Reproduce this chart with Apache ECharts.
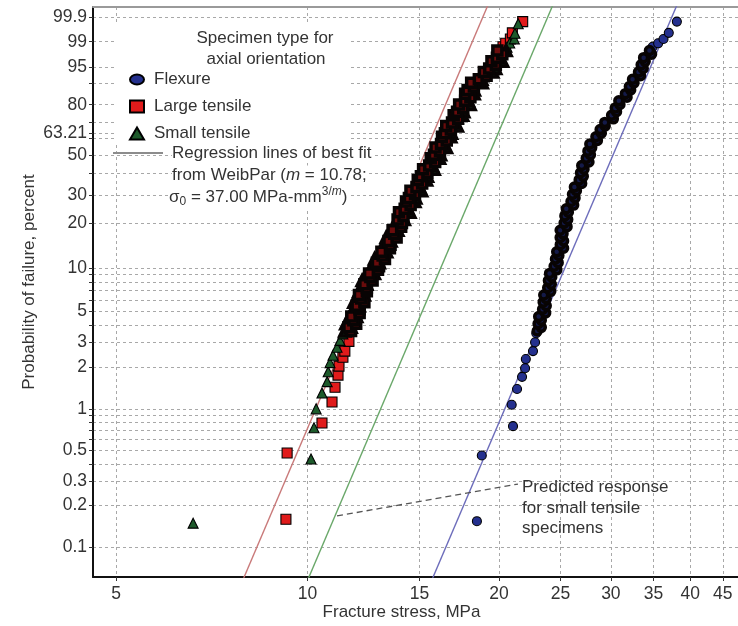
<!DOCTYPE html>
<html><head><meta charset="utf-8">
<script src="https://cdn.jsdelivr.net/npm/echarts@6/dist/echarts.min.js"></script>
<style>html,body{margin:0;padding:0;background:#fff}#c{width:738px;height:626px}</style>
</head><body><div id="c"></div>
<script>
// ---------- axes ----------
const xTickStress = [5, 10, 15, 20, 25, 30, 35, 40, 45];
const xRangeStress = [4.6, 47.54];
const yLabelPct = [0.1, 0.2, 0.3, 0.5, 1, 2, 3, 5, 10, 20, 30, 50, 63.21, 80, 95, 99, 99.9];
const yGridPct = [0.1, 0.2, 0.3, 0.4, 0.5, 0.6, 0.7, 0.8, 0.9, 1, 2, 3, 4, 5, 6, 7, 8, 9, 10, 20, 30, 40, 50, 60, 63.21, 70, 80, 90, 95, 99, 99.9];
const yRangePct = [0.0607, 99.973];

// ---------- data (stress in MPa, probability of failure in percent) ----------
// percent levels of the dense part of each distribution
const bandPct = [3.62, 3.84, 4.07, 4.32, 4.58, 4.86, 5.15, 5.46, 5.79, 6.13, 6.50, 6.89, 7.30, 7.73, 8.19, 8.67, 9.18, 9.72, 10.29, 10.89,
  11.53, 12.19, 12.90, 13.64, 14.42, 15.24, 16.10, 17.01, 17.95, 18.95, 20.00, 21.09, 22.24, 23.44, 24.70, 26.00, 27.37, 28.80, 30.27, 31.81,
  33.41, 35.06, 36.77, 38.54, 40.36, 42.23, 44.17, 46.14, 48.16, 50.23, 52.33, 54.46, 56.63, 58.81, 61.01, 63.21, 65.42, 67.62, 69.80, 71.95,
  74.07, 76.15, 78.17, 80.13, 82.02, 83.84, 85.55, 87.19, 88.71, 90.14, 91.45, 92.66, 93.75, 94.74, 95.62, 96.38, 97.06, 97.63, 98.12];

// Flexure
const flexLowStress = [18.47, 18.8, 21.05, 20.95, 21.36, 21.75, 21.99, 22.05, 22.63, 22.8, 22.9];
const flexLowPct = [0.154, 0.46, 0.75, 1.07, 1.39, 1.70, 1.96, 2.28, 2.60, 3.01, 3.49];
const flexBandStress = [22.98, 23.32, 23.05, 23.32, 23.10, 23.69, 23.43, 23.74, 23.48, 23.74, 23.53, 24.13, 23.87, 24.18, 23.93, 24.22, 24.03,
  24.67, 24.43, 24.79, 24.55, 24.85, 24.66, 25.28, 24.98, 25.28, 24.97, 25.23, 24.97, 25.60, 25.33, 25.66, 25.40, 25.72, 25.53, 26.22, 25.97,
  26.35, 26.11, 26.48, 26.29, 26.99, 26.75, 27.15, 26.88, 27.22, 27.00, 27.71, 27.44, 27.86, 27.61, 27.99, 27.80, 28.57, 28.42, 28.98, 28.86,
  29.39, 29.35, 30.27, 30.08, 30.62, 30.48, 31.00, 30.88, 31.81, 31.62, 32.23, 32.08, 32.62, 32.45, 33.40, 33.16, 33.73, 33.48, 33.97, 33.78,
  34.76, 34.50];
const flexTopStress = [34.9, 35.6, 36.3, 37.0, 38.1];
const flexTopPct = [98.55, 98.87, 99.19, 99.52, 99.84];

// Large tensile
const largeLowStress = [9.25, 9.29, 10.54, 10.93, 11.05, 11.17, 11.21, 11.37, 11.45, 11.62];
const largeLowPct = [0.159, 0.48, 0.79, 1.12, 1.43, 1.75, 2.03, 2.35, 2.60, 3.05];
const largeBandStress = [11.71, 11.60, 11.93, 11.81, 11.72, 12.08, 12.08, 11.95, 12.29, 12.14, 12.05, 12.40, 12.40, 12.29, 12.66, 12.56,
  12.50, 12.91, 12.96, 12.86, 13.24, 13.13, 13.07, 13.48, 13.51, 13.41, 13.81, 13.69, 13.61, 14.04, 14.08, 13.86, 14.16, 13.93, 14.22, 14.53,
  14.29, 14.44, 14.76, 14.52, 14.84, 15.15, 14.91, 15.08, 15.44, 15.20, 15.54, 15.88, 15.63, 15.81, 16.16, 15.90, 16.22, 16.56, 16.28, 16.45,
  16.81, 16.53, 16.88, 17.26, 16.98, 17.19, 17.58, 17.32, 17.70, 18.04, 17.70, 17.86, 18.27, 18.09, 18.60, 19.13, 18.94, 19.31, 19.78, 19.47,
  19.86, 20.25, 19.89];
const largeTopStress = [20.3, 20.5, 20.85, 21.0, 21.8];
const largeTopPct = [98.55, 98.87, 99.19, 99.52, 99.84];

// Small tensile
const smallLowStress = [6.61, 10.13, 10.24, 10.32, 10.54, 10.74, 10.78, 10.85, 10.97, 11.13, 11.25, 11.37];
const smallLowPct = [0.149, 0.434, 0.73, 1.0, 1.30, 1.57, 1.85, 2.15, 2.43, 2.77, 3.10, 3.45];
const smallBandStress = [11.45, 11.71, 11.49, 11.75, 11.95, 11.73, 11.82, 12.06, 11.83, 12.08, 12.28, 12.05, 12.13, 12.40, 12.19, 12.49,
  12.74, 12.54, 12.68, 12.97, 12.75, 13.06, 13.32, 13.09, 13.22, 13.53, 13.30, 13.62, 13.87, 13.64, 13.77, 14.20, 14.08, 14.49, 14.38, 14.29,
  14.75, 14.80, 14.68, 15.12, 15.00, 14.91, 15.39, 15.44, 15.34, 15.82, 15.71, 15.62, 16.13, 16.19, 16.06, 16.54, 16.40, 16.30, 16.80, 16.85,
  16.71, 17.21, 17.06, 16.98, 17.54, 17.61, 17.48, 18.02, 17.90, 17.76, 18.28, 18.30, 18.17, 18.83, 18.80, 18.83, 19.56, 19.77, 19.66, 20.27,
  20.08, 19.93, 20.53];
const smallTopStress = [20.6, 20.8, 21.15, 21.2, 21.45];
const smallTopPct = [98.5, 98.9, 99.2, 99.5, 99.8];

// Regression lines (end points outside the plot, clipped by the grid)
const regLinePct = [0.01, 99.99];
const regRedStress = [6.73, 19.37];
const regGreenStress = [8.51, 24.50];
const regBlueStress = [13.34, 38.40];
// leader line of the "Predicted response" note
const leaderStress = [11.13, 21.43];
const leaderPct = [0.168, 0.286];

// ---------- helpers ----------
const FONT = '"Liberation Sans", Arial, Helvetica, sans-serif';
const TXT = '#333';
const tx = s => Math.log10(s);
const ty = p => Math.log(-Math.log(1 - p / 100));
function pts(stress, pct) {
  const n = Math.min(stress.length, pct.length), out = [];
  for (let i = 0; i < n; i++) out.push([tx(stress[i]), ty(pct[i])]);
  return out;
}
const xMin = tx(xRangeStress[0]), xMax = tx(xRangeStress[1]);
const yMin = ty(yRangePct[0]), yMax = ty(yRangePct[1]);

function pctLabel(v) {
  let best = yLabelPct[0], d = Infinity;
  yLabelPct.forEach(q => { const dd = Math.abs(ty(q) - v); if (dd < d) { d = dd; best = q; } });
  return String(best);
}

const splitStyle = { color: '#a8a8a8', type: [3, 3], width: 1 };
const COL = { flex: '#24308e', large: '#e01b1b', small: '#1d5a2b' };
// dense (overlapping) parts of each sample render almost black, as in the source figure
const DARK = { flex: '#141a48', large: '#6a0c0c', small: '#0e2a16' };
function scatter(name, data, symbol, size, color, band) {
  return {
    name, type: 'scatter', data, symbol, symbolSize: size, z: band ? 4 : 3,
    itemStyle: { color, opacity: 1, borderColor: band ? '#080404' : '#000', borderWidth: band ? 3.5 : 1.1 },
    emphasis: { disabled: true }
  };
}

const chart = echarts.init(document.getElementById('c'), null, { renderer: 'canvas' });
chart.setOption({
  animation: false,
  backgroundColor: '#fff',
  textStyle: { fontFamily: FONT },
  grid: { left: 93, right: 0, top: 7, bottom: 49, containLabel: false, outerBoundsMode: 'none' },
  xAxis: [{
    type: 'value', min: xMin, max: xMax,
    name: 'Fracture stress, MPa', nameLocation: 'middle', nameGap: 27, nameMoveOverlap: false,
    nameTextStyle: { fontSize: 17, color: TXT, fontFamily: FONT, padding: [0, 28, 0, 0] },
    axisLine: { show: true, onZero: false, lineStyle: { color: '#111', width: 2 } },
    axisTick: { show: true, inside: false, length: 4, lineStyle: { color: '#333' }, customValues: xTickStress.map(tx) },
    axisLabel: { show: true, fontSize: 17.5, color: TXT, fontFamily: FONT, margin: 8, customValues: xTickStress.map(tx),
      formatter: v => String(Math.round(Math.pow(10, v))) },
    splitLine: { show: true, lineStyle: splitStyle }
  }, {
    type: 'value', position: 'top', min: xMin, max: xMax,
    axisLine: { show: true, onZero: false, lineStyle: { color: '#9a9a9a', width: 2 } },
    axisTick: { show: false }, axisLabel: { show: false }, splitLine: { show: false }
  }],
  yAxis: {
    type: 'value', min: yMin, max: yMax,
    name: 'Probability of failure, percent', nameLocation: 'middle', nameGap: 55, nameMoveOverlap: false,
    nameTextStyle: { fontSize: 17, color: TXT, fontFamily: FONT, padding: [0, 0, 0, 20] },
    axisLine: { show: true, onZero: false, lineStyle: { color: '#111', width: 2 } },
    axisTick: { show: true, inside: false, length: 4, lineStyle: { color: '#333' }, customValues: yGridPct.map(ty) },
    axisLabel: { show: true, fontSize: 17.5, color: TXT, fontFamily: FONT, margin: 6, customValues: yLabelPct.map(ty),
      formatter: pctLabel },
    splitLine: { show: true, lineStyle: splitStyle }
  },
  legend: {
    data: [
      { name: 'Flexure', icon: 'path://M0,5 A7,5 0 1,0 14,5 A7,5 0 1,0 0,5 Z' },
      { name: 'Large tensile' },
      { name: 'Small tensile' }
    ],
    orient: 'vertical', left: 129, top: 71, padding: 0,
    itemWidth: 14, itemHeight: 12, itemGap: 10,
    textStyle: { fontSize: 17, color: TXT, fontFamily: FONT, lineHeight: 17, padding: [0, 0, 0, 5] },
    selectedMode: false, z: 6
  },
  graphic: [
    { type: 'rect', z: 1, shape: { x: 114, y: 24, width: 236, height: 120 }, style: { fill: '#fff' }, silent: true },
    { type: 'text', z: 6, x: 265, y: 38, style: { text: 'Specimen type for', font: '17px ' + FONT, fill: TXT, align: 'center', verticalAlign: 'middle' } },
    { type: 'text', z: 6, x: 266, y: 59, style: { text: 'axial orientation', font: '17px ' + FONT, fill: TXT, align: 'center', verticalAlign: 'middle' } },
    { type: 'line', z: 6, shape: { x1: 113, y1: 153, x2: 163, y2: 153 }, style: { stroke: '#8c8c8c', lineWidth: 2 } },
    { type: 'text', z: 6, x: 172, y: 153, style: { text: 'Regression lines of best fit', font: '17px ' + FONT, fill: TXT,
        align: 'left', verticalAlign: 'middle', backgroundColor: '#fff', padding: [1, 2, 1, 0] } },
    { type: 'text', z: 6, x: 172, y: 175, style: { text: '{n|from WeibPar (}{i|m}{n| = 10.78;}', fill: TXT,
        align: 'left', verticalAlign: 'middle', backgroundColor: '#fff', padding: [1, 2, 1, 0],
        rich: { n: { fontSize: 17, fontFamily: FONT, fill: TXT }, i: { fontSize: 17, fontFamily: FONT, fontStyle: 'italic', fill: TXT } } } },
    { type: 'text', z: 6, x: 169, y: 197, style: { text: '{n|σ}{sub|0}{n| = 37.00 MPa-mm}{sup|3/}{supi|m}{n|)}', fill: TXT,
        align: 'left', verticalAlign: 'middle', backgroundColor: '#fff', padding: [1, 2, 1, 0],
        rich: { n: { fontSize: 17, fontFamily: FONT, fill: TXT, lineHeight: 22 },
                sub: { fontSize: 12, fontFamily: FONT, fill: TXT, verticalAlign: 'bottom', lineHeight: 22 },
                sup: { fontSize: 12, fontFamily: FONT, fill: TXT, verticalAlign: 'top', lineHeight: 22 },
                supi: { fontSize: 12, fontFamily: FONT, fontStyle: 'italic', fill: TXT, verticalAlign: 'top', lineHeight: 22 } } } },
    { type: 'text', z: 6, x: 522, y: 487, style: { text: 'Predicted response', font: '17px ' + FONT, fill: TXT, align: 'left', verticalAlign: 'middle' } },
    { type: 'text', z: 6, x: 522, y: 508, style: { text: 'for small tensile', font: '17px ' + FONT, fill: TXT, align: 'left', verticalAlign: 'middle' } },
    { type: 'text', z: 6, x: 522, y: 528, style: { text: 'specimens', font: '17px ' + FONT, fill: TXT, align: 'left', verticalAlign: 'middle' } }
  ],
  series: [
    { name: 'Fit large tensile', type: 'line', data: pts(regRedStress, regLinePct), symbol: 'none', silent: true, clip: true,
      lineStyle: { color: '#c97a7a', width: 1.4 }, z: 1 },
    { name: 'Predicted small tensile', type: 'line', data: pts(regGreenStress, regLinePct), symbol: 'none', silent: true, clip: true,
      lineStyle: { color: '#6aa86a', width: 1.4 }, z: 1 },
    { name: 'Fit flexure', type: 'line', data: pts(regBlueStress, regLinePct), symbol: 'none', silent: true, clip: true,
      lineStyle: { color: '#6d6dbb', width: 1.4 }, z: 1 },
    { name: 'Leader', type: 'line', data: pts(leaderStress, leaderPct), symbol: 'none', silent: true,
      lineStyle: { color: '#555', width: 1.3, type: [6, 4] }, z: 1 },
    scatter('Flexure', pts(flexLowStress, flexLowPct).concat(pts(flexTopStress, flexTopPct)), 'circle', 9, COL.flex, false),
    scatter('Large tensile', pts(largeLowStress, largeLowPct).concat(pts(largeTopStress, largeTopPct)), 'rect', 10, COL.large, false),
    scatter('Small tensile', pts(smallLowStress, smallLowPct).concat(pts(smallTopStress, smallTopPct)), 'triangle', 10, COL.small, false),
    scatter('Flexure', pts(flexBandStress, bandPct), 'circle', 8, DARK.flex, true),
    scatter('Small tensile', pts(smallBandStress, bandPct), 'triangle', 10, DARK.small, true),
    scatter('Large tensile', pts(largeBandStress, bandPct), 'rect', 9, DARK.large, true)
  ]
});
</script>
</body></html>
